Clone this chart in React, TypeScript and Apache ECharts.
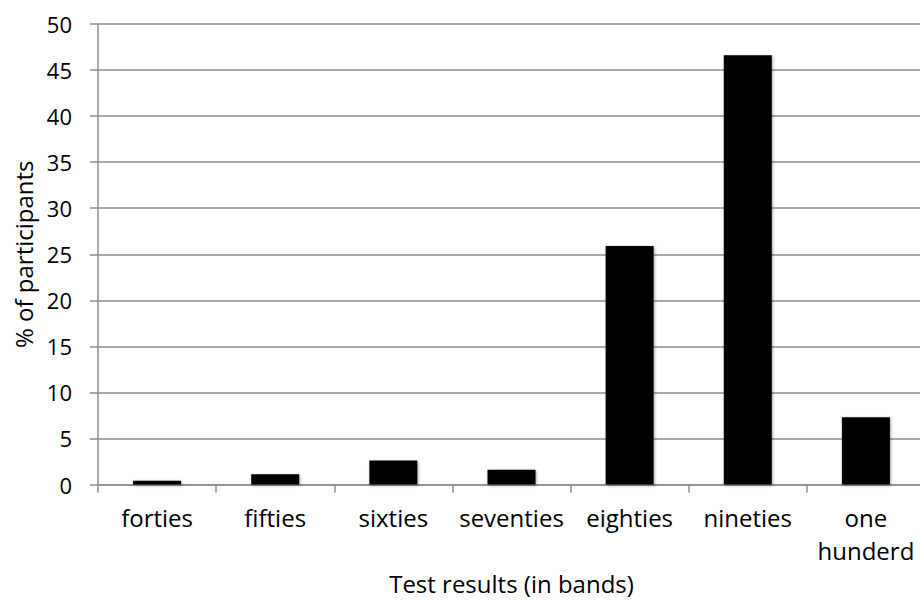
import React, { useEffect, useRef } from "react";
import * as echarts from "echarts";

const categories = ["forties", "fifties", "sixties", "seventies", "eighties", "nineties", "one\nhunderd"];
const percentValues = [0.4, 1.1, 2.6, 1.6, 25.9, 46.6, 7.3];
const yAxisName = "% of participants";
const xAxisName = "Test results (in bands)";

const FONT = "Open Sans";
const GRAY = "#8c8c8c";
const FS = 24;

export default function App() {
  const ref = useRef<HTMLDivElement>(null);
  useEffect(() => {
    if (!ref.current) return;
    const chart = echarts.init(ref.current, undefined, { renderer: "svg" });
    chart.setOption({
      animation: false,
      backgroundColor: "#ffffff",
      textStyle: { fontFamily: FONT },
      grid: { left: 98, right: 5, top: 24, bottom: 118.5 },
      xAxis: {
        type: "category",
        data: categories,
        boundaryGap: true,
        name: xAxisName,
        nameLocation: "middle",
        nameGap: 83,
        nameTextStyle: { fontFamily: FONT, fontSize: FS, color: "#000" },
        axisLine: { show: true, lineStyle: { color: GRAY, width: 1.5 } },
        axisTick: { show: true, length: 8, alignWithLabel: false, lineStyle: { color: GRAY, width: 1.5 } },
        axisLabel: { fontFamily: FONT, fontSize: FS, color: "#000", margin: 16, lineHeight: 33, interval: 0 },
        splitLine: { show: false },
      },
      yAxis: {
        type: "value",
        min: 0,
        max: 50,
        interval: 5,
        name: yAxisName,
        nameLocation: "middle",
        nameGap: 60,
        nameRotate: 90,
        nameTextStyle: { fontFamily: FONT, fontSize: FS, color: "#000" },
        axisLine: { show: true, lineStyle: { color: GRAY, width: 1.5 } },
        axisTick: { show: true, length: 8, lineStyle: { color: GRAY, width: 1.5 } },
        axisLabel: { fontFamily: FONT, fontSize: 22, color: "#000", margin: 26 },
        splitLine: { show: true, lineStyle: { color: GRAY, width: 1.5 } },
      },
      series: [
        {
          type: "bar",
          data: percentValues,
          barWidth: 48,
          itemStyle: {
            color: "#000000",
            shadowBlur: 3,
            shadowColor: "rgba(0,0,0,0.35)",
            shadowOffsetX: 1,
            shadowOffsetY: 1,
          },
        },
      ],
    });
    return () => chart.dispose();
  }, []);
  return (
    <div style={{ position: "fixed", left: 0, top: 0, width: 920, height: 603, overflow: "hidden", background: "#fff" }}>
      <div ref={ref} style={{ width: 930, height: 603 }} />
    </div>
  );
}
